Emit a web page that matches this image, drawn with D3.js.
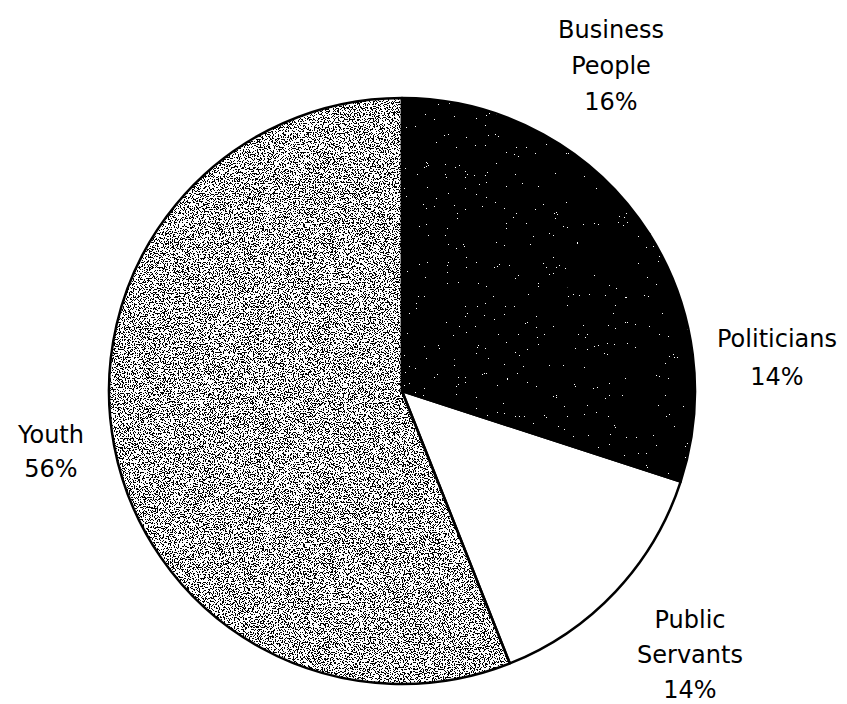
<!DOCTYPE html>
<html>
<head>
<meta charset="utf-8">
<script src="https://cdn.jsdelivr.net/npm/d3@7"></script>
<style>
  html, body { margin: 0; padding: 0; background: #fff; }
  svg { display: block; }
  text { font-family: "DejaVu Sans", sans-serif; font-size: 24px; fill: #000; }
</style>
</head>
<body>
<svg id="chart" width="847" height="704"></svg>
<script>
// Share of respondents by group
const categories = ["Business People", "Politicians", "Public Servants", "Youth"];
const shares = [16, 14, 14, 56];
const labelLines = [["Business", "People"], ["Politicians"], ["Public", "Servants"], ["Youth"]];
const fills = ["dark", "dark", "blank", "light"];

const width = 847, height = 704;
const cx = 402, cy = 391, radius = 293;

const svg = d3.select("#chart");
const defs = svg.append("defs");

// Stipple textures built from fractal noise (coordinates relative to the pie centre)
function stipple(id, color, table, freq, seed) {
  const f = defs.append("filter").attr("id", id)
    .attr("filterUnits", "userSpaceOnUse")
    .attr("x", -radius - 10).attr("y", -radius - 10)
    .attr("width", 2 * radius + 20).attr("height", 2 * radius + 20);
  f.append("feTurbulence").attr("type", "fractalNoise")
    .attr("baseFrequency", freq).attr("numOctaves", 2).attr("seed", seed).attr("result", "noise");
  f.append("feColorMatrix").attr("in", "noise").attr("type", "matrix")
    .attr("values", `0 0 0 0 ${color} 0 0 0 0 ${color} 0 0 0 0 ${color} 1 0 0 0 0`)
    .attr("result", "mono");
  f.append("feComponentTransfer").attr("in", "mono").attr("result", "dots")
    .append("feFuncA").attr("type", "discrete").attr("tableValues", table);
  f.append("feComposite").attr("in", "dots").attr("in2", "SourceGraphic")
    .attr("operator", "in").attr("result", "clipped");
  const m = f.append("feMerge");
  m.append("feMergeNode").attr("in", "SourceGraphic");
  m.append("feMergeNode").attr("in", "clipped");
}
stipple("lightStipple", 0, "0 0 0 0 0 0 0 0 0 0 0 1 1 1 1 1 1 1 1 1", 0.8, 7);
stipple("darkStipple", 1, "0 0 0 0 0 0 0 0 0 0 0 0 0 0 0 0 1 1 1 1", 0.9, 3);

const pie = d3.pie().sort(null).value(d => d)
  .startAngle(0).endAngle(2 * Math.PI);
const arcs = pie(shares);
const arc = d3.arc().innerRadius(0).outerRadius(radius);

const fillColor = { dark: "#000", blank: "#fff", light: "#fff" };
const filterOf = { dark: "url(#darkStipple)", blank: null, light: "url(#lightStipple)" };

// Slices with their textures
svg.append("g").attr("transform", `translate(${cx},${cy})`)
  .selectAll("path")
  .data(arcs)
  .join("path")
  .attr("d", arc)
  .attr("fill", (d, i) => fillColor[fills[i]])
  .attr("filter", (d, i) => filterOf[fills[i]]);

// Outline on top
svg.append("g").attr("transform", `translate(${cx},${cy})`)
  .selectAll("path")
  .data(arcs)
  .join("path")
  .attr("d", arc)
  .attr("fill", "none")
  .attr("stroke", "#000")
  .attr("stroke-width", 2.5)
  .attr("stroke-linejoin", "round");

// Label anchors: [centre x, first baseline]
const labelPos = [[611, 38], [777, 347], [690, 628], [51, 443]];
const lineGap = [36, 38, 35, 34];

categories.forEach((c, i) => {
  const lines = labelLines[i].concat([shares[i] + "%"]);
  const t = svg.append("text")
    .attr("text-anchor", "middle")
    .attr("x", labelPos[i][0])
    .attr("y", labelPos[i][1]);
  lines.forEach((ln, j) => {
    t.append("tspan")
      .attr("x", labelPos[i][0])
      .attr("y", labelPos[i][1] + j * lineGap[i])
      .text(ln);
  });
});
</script>
</body>
</html>
